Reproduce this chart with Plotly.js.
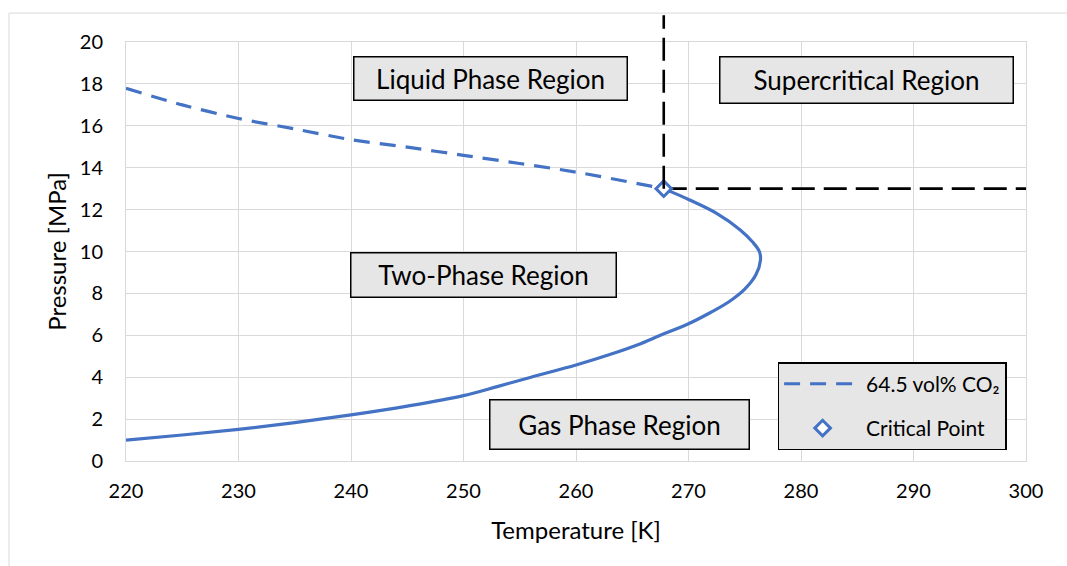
<!DOCTYPE html>
<html>
<head>
<meta charset="utf-8">
<script src="https://cdn.plot.ly/plotly-3.0.1.min.js"></script>
<style>
  html, body { margin: 0; padding: 0; background: #ffffff; }
  #chart { width: 1067px; height: 566px; }
</style>
</head>
<body>
<div id="chart"></div>
<script>
// Phase envelope of a 64.5 vol% CO2 mixture
// Bubble-point branch (dashed), from 220 K up to the critical point
const bubbleT = [220, 225, 230, 235, 240, 245, 250, 255, 260, 267.8];
const bubbleP = [17.79, 17.0, 16.35, 15.85, 15.34, 14.98, 14.59, 14.2, 13.79, 13.0];

// Dew-point branch (solid), from the critical point round the cricondentherm down to 220 K
const dewT = [267.8, 270.1, 272.5, 274.6, 275.7, 276.3, 276.4, 276.0, 275.0, 273.6, 272.0, 270.0, 267.5, 265.5, 263.0, 260.0, 256.0, 253.0, 250.0, 245.0, 240.0, 235.0, 230.0, 225.0, 220.0];
const dewP = [13.0, 12.46, 11.82, 11.03, 10.45, 10.0, 9.6, 8.9, 8.2, 7.6, 7.1, 6.55, 6.0, 5.55, 5.08, 4.58, 4.0, 3.55, 3.12, 2.62, 2.2, 1.83, 1.51, 1.24, 1.0];

// Critical point
const critT = [267.8];
const critP = [13.0];

// Axis ranges and ticks
const xRange = [220, 300];
const yRange = [0, 20];
const xTicks = [220, 230, 240, 250, 260, 270, 280, 290, 300];
const yTicks = [0, 2, 4, 6, 8, 10, 12, 14, 16, 18, 20];

// Region labels
const regionNames = ['Liquid Phase Region', 'Supercritical Region', 'Two-Phase Region', 'Gas Phase Region'];
const regionT = [252.4, 285.8, 251.8, 263.9];
const regionP = [18.28, 18.19, 8.88, 1.72];
const regionW = [272, 292, 264, 258];
const regionH = [42, 45, 43, 48];

const blue = '#4472C4';
const gridGrey = '#D9D9D9';
const boxGrey = '#E7E6E6';
const font = 'Lato, "Open Sans", sans-serif';

const traces = [
  {
    x: bubbleT, y: bubbleP, type: 'scatter', mode: 'lines',
    name: '64.5 vol% CO\u2082', legendgroup: 'a',
    line: { color: blue, width: 3.2, dash: '16px,10px', shape: 'spline', smoothing: 0.8 }
  },
  {
    x: dewT, y: dewP, type: 'scatter', mode: 'lines',
    showlegend: false, legendgroup: 'a',
    line: { color: blue, width: 3.2, shape: 'spline', smoothing: 1 }
  },
  {
    x: [critT[0], xRange[1]], y: [critP[0], critP[0]], type: 'scatter', mode: 'lines',
    showlegend: false, hoverinfo: 'skip',
    line: { color: '#000000', width: 2.6, dash: '23px,9px' }
  },
  {
    x: critT, y: critP, type: 'scatter', mode: 'markers',
    name: 'Critical Point', legendgroup: 'b',
    marker: { symbol: 'diamond', size: 12, color: '#ffffff', line: { color: blue, width: 3 } }
  }
];

const annotations = regionNames.map((name, i) => ({
  x: regionT[i], y: regionP[i], xref: 'x', yref: 'y',
  text: name, showarrow: false,
  width: regionW[i], height: regionH[i],
  bgcolor: boxGrey, bordercolor: '#000000', borderwidth: 1.5, borderpad: 0,
  font: { family: font, size: 26, color: '#000000' }
}));

const layout = {
  width: 1067, height: 566,
  margin: { l: 126, r: 41, t: 42, b: 105 },
  paper_bgcolor: '#ffffff', plot_bgcolor: '#ffffff',
  font: { family: font, color: '#000000' },
  showlegend: true,
  legend: {
    x: 0.724, y: 0.236, xanchor: 'left', yanchor: 'top',
    bgcolor: boxGrey, bordercolor: '#000000', borderwidth: 1.5,
    font: { family: font, size: 21, color: '#000000' },
    traceorder: 'grouped', tracegroupgap: 14, itemwidth: 77,
    entrywidth: 150, entrywidthmode: 'pixels'
  },
  xaxis: {
    range: xRange, tickvals: xTicks, ticktext: xTicks.map(String),
    showgrid: true, gridcolor: gridGrey, gridwidth: 1,
    showline: true, linecolor: gridGrey, linewidth: 1, mirror: true,
    zeroline: false, ticks: '', ticklabelstandoff: 12,
    tickfont: { family: font, size: 20, color: '#000000' },
    title: { text: 'Temperature [K]', standoff: 21, font: { family: font, size: 24, color: '#000000' } }
  },
  yaxis: {
    range: yRange, tickvals: yTicks, ticktext: yTicks.map(String),
    showgrid: true, gridcolor: gridGrey, gridwidth: 1,
    showline: true, linecolor: gridGrey, linewidth: 1, mirror: true,
    zeroline: false, ticks: '', ticklabelstandoff: 18,
    tickfont: { family: font, size: 20, color: '#000000' },
    title: { text: 'Pressure [MPa]', standoff: 6, font: { family: font, size: 24, color: '#000000' } }
  },
  shapes: [
    // chart frame
    { type: 'rect', xref: 'paper', yref: 'paper', x0: -0.13, x1: 1.06, y0: -0.3, y1: 1.069,
      line: { color: gridGrey, width: 1 }, fillcolor: 'rgba(0,0,0,0)', layer: 'below' },
    // vertical critical temperature line, rising past the top of the plot
    { type: 'line', xref: 'x', yref: 'paper', x0: critT[0], x1: critT[0],
      y0: critP[0] / yRange[1], y1: 1.064,
      line: { color: '#000000', width: 2.6, dash: '23px,9px' } }
  ],
  annotations: annotations
};

Plotly.newPlot('chart', traces, layout, { displayModeBar: false, staticPlot: true });
</script>
</body>
</html>
